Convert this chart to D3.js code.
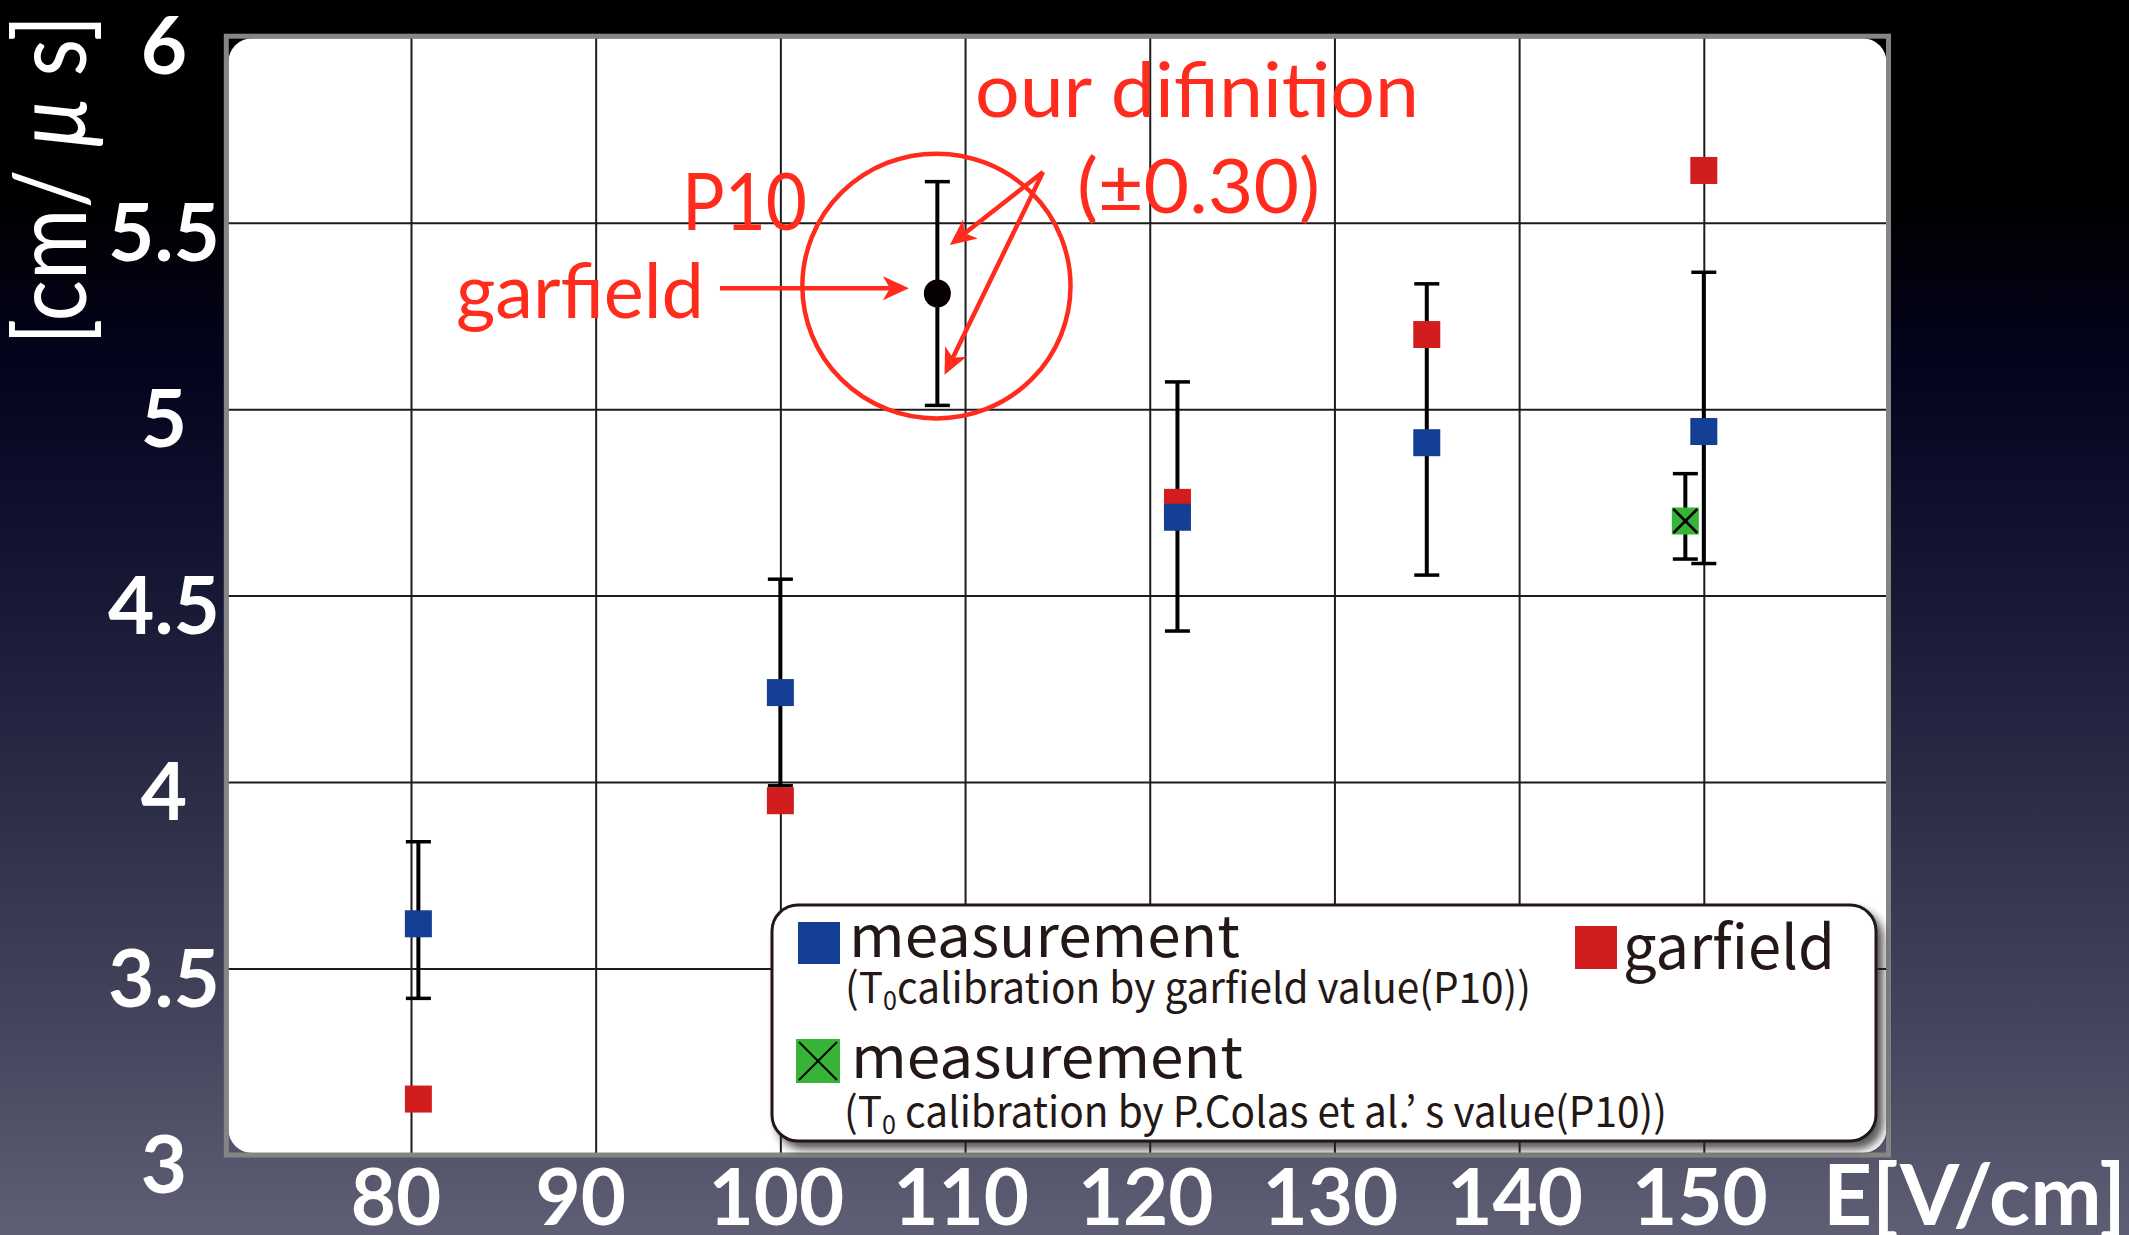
<!DOCTYPE html>
<html>
<head>
<meta charset="utf-8">
<script src="https://cdn.jsdelivr.net/npm/d3@7"></script>
<style>
  html, body { margin: 0; padding: 0; background: #000; }
  svg { display: block; }
</style>
</head>
<body>
<svg id="chart" width="2129" height="1235"></svg>
<script>
// Drift velocity [cm/μs] against electric field E [V/cm]

// measurement (T0 calibrated with the garfield P10 value)
const fieldMeasured   = [80.4, 100, 121.5, 135, 150];
const velMeasured     = [3.62, 4.24, 4.71, 4.91, 4.94];
const errLowMeasured  = [3.42, 3.99, 4.405, 4.555, 4.586];
const errHighMeasured = [3.84, 4.544, 5.073, 5.336, 5.367];

// garfield simulation
const fieldGarfield = [80.4, 100, 121.5, 135, 150];
const velGarfield   = [3.15, 3.95, 4.75, 5.20, 5.64];

// measurement (T0 calibrated with P.Colas et al. value)
const fieldColas   = [149];
const velColas     = [4.70];
const errLowColas  = [4.598];
const errHighColas = [4.827];

// P10 garfield reference point with our definition (±0.30)
const fieldP10 = [108.5];
const velP10   = [5.31];
const errP10   = [0.30];

const xTicks = [80, 90, 100, 110, 120, 130, 140, 150];
const xTickLabels = ["80", "90", "100", "110", "120", "130", "140", "150"];
const yTicks = [3, 3.5, 4, 4.5, 5, 5.5, 6];
const yTickLabels = ["3", "3.5", "4", "4.5", "5", "5.5", "6"];
const yGrid = [3.5, 4, 4.5, 5, 5.5];

const svg = d3.select("#chart");
const W = 2129, H = 1235;

const x = d3.scaleLinear().domain([70, 160]).range([226.3, 1888.5]);
const y = d3.scaleLinear().domain([3, 6]).range([1155, 36.2]);

const plotL = x(70), plotR = x(160), plotT = y(6), plotB = y(3);
const plotW = plotR - plotL, plotH = plotB - plotT;

const RED_NOTE = "#ff2b1c";
const BLUE = "#153f95";
const RED = "#d21d1e";
const GREEN = "#37b337";
const INK = "#231815";
const AXFONT = "Lato, 'Open Sans', sans-serif";

// ---------- background ----------
const defs = svg.append("defs");
const bg = defs.append("linearGradient").attr("id", "bg")
  .attr("x1", 0).attr("y1", 0).attr("x2", 0).attr("y2", 1);
[[0, "#000000"], [0.16, "#000000"], [0.3, "#04041f"], [0.48, "#171834"],
 [0.65, "#2c2d47"], [0.85, "#47485f"], [1, "#5e5f74"]]
  .forEach(([o, c]) => bg.append("stop").attr("offset", o).attr("stop-color", c));

const shadow = defs.append("filter").attr("id", "shadow")
  .attr("x", "-5%").attr("y", "-10%").attr("width", "115%").attr("height", "130%");
shadow.append("feDropShadow").attr("dx", 6).attr("dy", 7).attr("stdDeviation", 4)
  .attr("flood-color", "#222").attr("flood-opacity", 0.75);

svg.append("rect").attr("width", W).attr("height", H).attr("fill", "url(#bg)");

// ---------- plot area ----------
svg.append("rect")
  .attr("x", plotL + 2).attr("y", plotT + 2)
  .attr("width", plotW - 4).attr("height", plotH - 4)
  .attr("rx", 24).attr("ry", 24)
  .attr("fill", "#ffffff");

const grid = svg.append("g");

// vertical grid lines
grid.append("g")
  .attr("transform", `translate(0,${plotB})`)
  .call(d3.axisBottom(x).tickValues(xTicks).tickSize(-plotH).tickFormat(""))
  .call(g => g.select(".domain").remove())
  .call(g => g.selectAll(".tick line").attr("stroke", "#1c1c1c").attr("stroke-width", 2));

// horizontal grid lines
grid.append("g")
  .attr("transform", `translate(${plotL},0)`)
  .call(d3.axisLeft(y).tickValues(yGrid).tickSize(-plotW).tickFormat(""))
  .call(g => g.select(".domain").remove())
  .call(g => g.selectAll(".tick line").attr("stroke", "#1c1c1c").attr("stroke-width", 2));

// frame
svg.append("rect")
  .attr("x", plotL).attr("y", plotT)
  .attr("width", plotW).attr("height", plotH)
  .attr("fill", "none").attr("stroke", "#858585").attr("stroke-width", 5);

// ---------- axis labels ----------
svg.append("g").selectAll("text").data(yTicks).join("text")
  .attr("x", 164).attr("y", d => y(d) + 38)
  .attr("text-anchor", "middle")
  .attr("font-family", AXFONT).attr("font-weight", 700)
  .attr("font-size", 80).attr("fill", "#ffffff")
  .text((d, i) => yTickLabels[i]);

svg.append("g").selectAll("text").data(xTicks).join("text")
  .attr("x", (d, i) => x(d) - (xTickLabels[i].length === 2 ? 15 : 4)).attr("y", 1225)
  .attr("text-anchor", "middle")
  .attr("font-family", AXFONT).attr("font-weight", 700)
  .attr("font-size", 78).attr("fill", "#ffffff")
  .text((d, i) => xTickLabels[i]);

svg.append("text")
  .attr("x", 1823).attr("y", 1225)
  .attr("font-family", AXFONT).attr("font-weight", 700)
  .attr("font-size", 84).attr("fill", "#ffffff")
  .attr("textLength", 303).attr("lengthAdjust", "spacingAndGlyphs")
  .text("E[V/cm]");

const yTitle = svg.append("text")
  .attr("transform", "translate(86,180) rotate(-90)")
  .attr("text-anchor", "middle")
  .attr("font-family", AXFONT)
  .attr("font-size", 100).attr("fill", "#ffffff")
  .attr("textLength", 330).attr("lengthAdjust", "spacingAndGlyphs");
yTitle.append("tspan").text("[cm/ ");
yTitle.append("tspan").attr("font-style", "italic").text("μ");
yTitle.append("tspan").text(" s]");

// ---------- data marks ----------
const marks = svg.append("g");
const CAP = 25, SQ = 27;

function errorBars(xs, lo, hi) {
  const g = marks.append("g").attr("stroke", "#000");
  g.selectAll("line.stem").data(xs).join("line").attr("class", "stem")
    .attr("x1", d => x(d)).attr("x2", d => x(d))
    .attr("y1", (d, i) => y(lo[i])).attr("y2", (d, i) => y(hi[i]))
    .attr("stroke-width", 4);
  g.selectAll("line.capHi").data(xs).join("line").attr("class", "capHi")
    .attr("x1", d => x(d) - CAP / 2).attr("x2", d => x(d) + CAP / 2)
    .attr("y1", (d, i) => y(hi[i])).attr("y2", (d, i) => y(hi[i]))
    .attr("stroke-width", 3.5);
  g.selectAll("line.capLo").data(xs).join("line").attr("class", "capLo")
    .attr("x1", d => x(d) - CAP / 2).attr("x2", d => x(d) + CAP / 2)
    .attr("y1", (d, i) => y(lo[i])).attr("y2", (d, i) => y(lo[i]))
    .attr("stroke-width", 3.5);
}

function squares(xs, vs, color) {
  return marks.append("g").selectAll("rect").data(xs).join("rect")
    .attr("x", d => x(d) - SQ / 2)
    .attr("y", (d, i) => y(vs[i]) - SQ / 2)
    .attr("width", SQ).attr("height", SQ)
    .attr("fill", color);
}

errorBars(fieldMeasured, errLowMeasured, errHighMeasured);
errorBars(fieldColas, errLowColas, errHighColas);
errorBars(fieldP10, fieldP10.map((d, i) => velP10[i] - errP10[i]),
                    fieldP10.map((d, i) => velP10[i] + errP10[i]));

squares(fieldGarfield, velGarfield, RED);
squares(fieldMeasured, velMeasured, BLUE);
squares(fieldColas, velColas, GREEN);

// cross inside the Colas marker
const cross = marks.append("g").attr("stroke", "#000").attr("stroke-width", 2.6);
fieldColas.forEach((d, i) => {
  const cx = x(d), cy = y(velColas[i]), h = SQ / 2 - 1.5;
  cross.append("line").attr("x1", cx - h).attr("y1", cy - h).attr("x2", cx + h).attr("y2", cy + h);
  cross.append("line").attr("x1", cx - h).attr("y1", cy + h).attr("x2", cx + h).attr("y2", cy - h);
});

marks.append("g").selectAll("ellipse").data(fieldP10).join("ellipse")
  .attr("cx", d => x(d)).attr("cy", (d, i) => y(velP10[i]))
  .attr("rx", 13.5).attr("ry", 14)
  .attr("fill", "#060000");

// ---------- annotations around the P10 point ----------
const ringCenter = [108.45, 5.33];
const ringRadius = [7.26, 0.355];
const noteArrows = [
  { from: [96.73, 5.324], to: [106.96, 5.324] },
  { from: [114.22, 5.636], to: [109.18, 5.44] },
  { from: [114.22, 5.636], to: [108.89, 5.092] }
];

const notes = svg.append("g");
notes.append("ellipse")
  .attr("cx", x(ringCenter[0])).attr("cy", y(ringCenter[1]))
  .attr("rx", x(ringCenter[0] + ringRadius[0]) - x(ringCenter[0]))
  .attr("ry", y(ringCenter[1] - ringRadius[1]) - y(ringCenter[1]))
  .attr("fill", "none").attr("stroke", RED_NOTE).attr("stroke-width", 4.5);

noteArrows.forEach(a => {
  const x1 = x(a.from[0]), y1 = y(a.from[1]);
  const x2 = x(a.to[0]), y2 = y(a.to[1]);
  const ang = Math.atan2(y2 - y1, x2 - x1);
  const len = 26, half = 12, notch = 7;
  const ux = Math.cos(ang), uy = Math.sin(ang);
  const px = -uy, py = ux;
  const bx = x2 - ux * len, by = y2 - uy * len;
  const nx = x2 - ux * (len - notch), ny = y2 - uy * (len - notch);
  notes.append("line")
    .attr("x1", x1).attr("y1", y1).attr("x2", nx).attr("y2", ny)
    .attr("stroke", RED_NOTE).attr("stroke-width", 4.5);
  notes.append("path")
    .attr("d", `M${x2},${y2} L${bx + px * half},${by + py * half} L${nx},${ny} L${bx - px * half},${by - py * half} Z`)
    .attr("fill", RED_NOTE);
});

function note(text, tx, ty, size, len) {
  notes.append("text")
    .attr("x", tx).attr("y", ty)
    .attr("font-family", AXFONT)
    .attr("font-size", size).attr("fill", RED_NOTE)
    .attr("textLength", len).attr("lengthAdjust", "spacingAndGlyphs")
    .text(text);
}
note("our difinition", 975, 117, 76, 444);
note("(±0.30)", 1077, 213, 76, 243);
note("P10", 682, 230, 80, 125);
note("garfield", 456, 318, 76, 248);

// ---------- legend ----------
const legend = svg.append("g");
legend.append("rect")
  .attr("x", 772).attr("y", 905).attr("width", 1104).attr("height", 236)
  .attr("rx", 26).attr("ry", 26)
  .attr("fill", "#ffffff").attr("stroke", INK).attr("stroke-width", 3)
  .attr("filter", "url(#shadow)");

legend.append("rect").attr("x", 798).attr("y", 922).attr("width", 42).attr("height", 42).attr("fill", BLUE);
legend.append("rect").attr("x", 1575).attr("y", 926).attr("width", 42).attr("height", 43).attr("fill", RED);
legend.append("rect").attr("x", 796).attr("y", 1039).attr("width", 44).attr("height", 44).attr("fill", GREEN);
legend.append("line").attr("x1", 799).attr("y1", 1042).attr("x2", 837).attr("y2", 1080)
  .attr("stroke", "#000").attr("stroke-width", 2);
legend.append("line").attr("x1", 799).attr("y1", 1080).attr("x2", 837).attr("y2", 1042)
  .attr("stroke", "#000").attr("stroke-width", 2);

const LFONT = "'Noto Sans CJK JP', 'Noto Sans', sans-serif";
function legendText(tx, ty, size, len, parts) {
  const t = legend.append("text")
    .attr("x", tx).attr("y", ty)
    .attr("font-family", LFONT).attr("font-size", size).attr("fill", INK)
    .attr("textLength", len).attr("lengthAdjust", "spacingAndGlyphs");
  parts.forEach(p => {
    const s = t.append("tspan").text(p.t);
    if (p.sub) s.attr("font-size", size * 0.62).attr("dy", 7);
    if (p.back) s.attr("dy", -7);
  });
}
legendText(849, 957, 58, 391, [{ t: "measurement" }]);
legendText(845, 1003, 42, 686, [{ t: "(T" }, { t: "0", sub: true }, { t: "calibration by garfield value(P10))", back: true }]);
legendText(851, 1078, 58, 392, [{ t: "measurement" }]);
legendText(844, 1127, 42, 823, [{ t: "(T" }, { t: "0", sub: true }, { t: " calibration by P.Colas et al.’ s value(P10))", back: true }]);
legendText(1623, 969, 60, 212, [{ t: "garfield" }]);
</script>
</body>
</html>
